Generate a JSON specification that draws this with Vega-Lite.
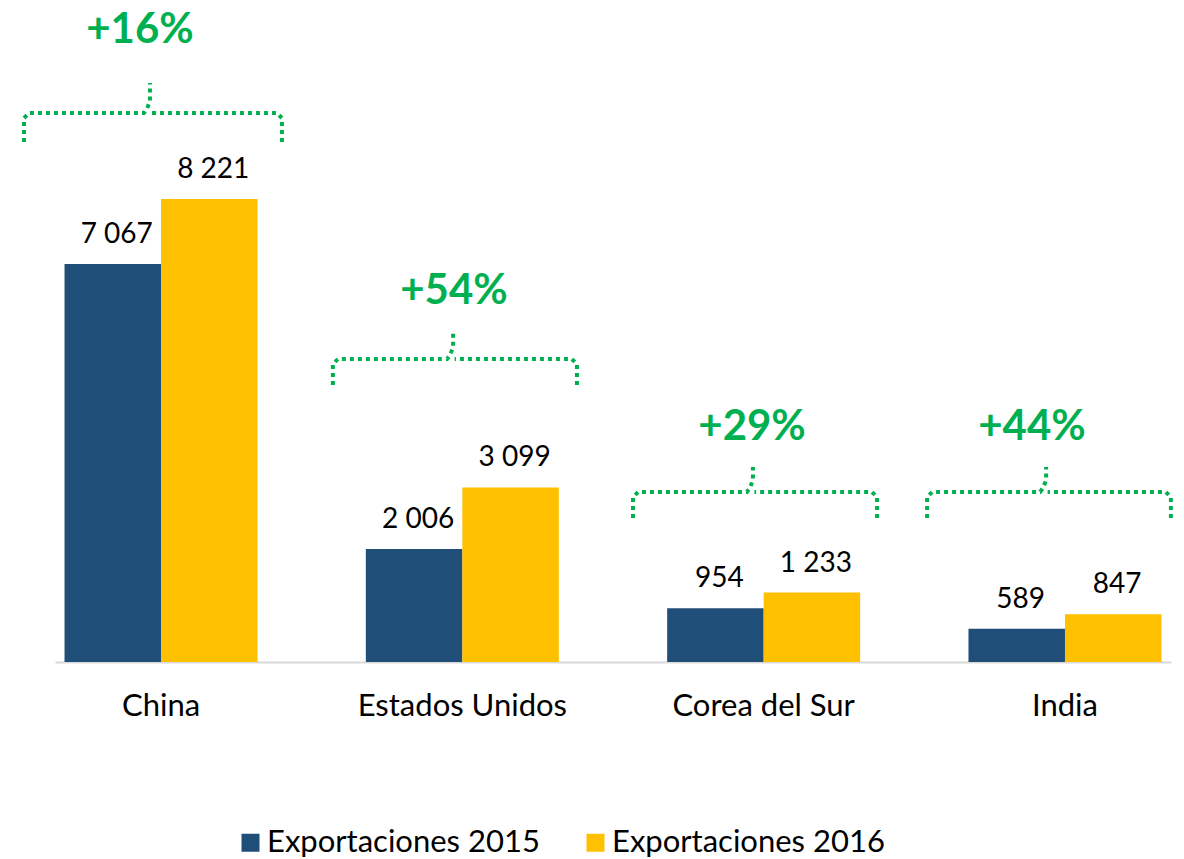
{
  "$schema": "https://vega.github.io/schema/vega-lite/v6.json",
  "width": 1116,
  "height": 662,
  "autosize": {"type": "none"},
  "padding": {"left": 55, "top": 0, "right": 13, "bottom": 197},
  "background": "white",
  "config": {
    "view": {"stroke": null},
    "font": "Lato",
    "locale": {"number": {"decimal": ",", "thousands": " ", "grouping": [3], "currency": ["", ""]}}
  },
  "datasets": {
    "bars": [
      {"pais": "China", "serie": "Exportaciones 2015", "valor": 7067},
      {"pais": "China", "serie": "Exportaciones 2016", "valor": 8221},
      {"pais": "Estados Unidos", "serie": "Exportaciones 2015", "valor": 2006},
      {"pais": "Estados Unidos", "serie": "Exportaciones 2016", "valor": 3099},
      {"pais": "Corea del Sur", "serie": "Exportaciones 2015", "valor": 954},
      {"pais": "Corea del Sur", "serie": "Exportaciones 2016", "valor": 1233},
      {"pais": "India", "serie": "Exportaciones 2015", "valor": 589},
      {"pais": "India", "serie": "Exportaciones 2016", "valor": 847}
    ],
    "brackets": [
      {"path": "China-a", "ord": 1, "xi": -0.453, "yv": 9233},
      {"path": "China-a", "ord": 2, "xi": -0.453, "yv": 9659},
      {"path": "China-a", "ord": 3, "xi": -0.436, "yv": 9748},
      {"path": "China-a", "ord": 4, "xi": -0.055, "yv": 9748},
      {"path": "China-a", "ord": 5, "xi": -0.045, "yv": 9819},
      {"path": "China-a", "ord": 6, "xi": -0.035, "yv": 9961},
      {"path": "China-a", "ord": 7, "xi": -0.035, "yv": 10281},
      {"path": "China-b", "ord": 1, "xi": 0.403, "yv": 9233},
      {"path": "China-b", "ord": 2, "xi": 0.403, "yv": 9659},
      {"path": "China-b", "ord": 3, "xi": 0.386, "yv": 9748},
      {"path": "China-b", "ord": 4, "xi": -0.030, "yv": 9748},
      {"path": "EU-a", "ord": 1, "xi": 0.572, "yv": 4919},
      {"path": "EU-a", "ord": 2, "xi": 0.572, "yv": 5291},
      {"path": "EU-a", "ord": 3, "xi": 0.589, "yv": 5380},
      {"path": "EU-a", "ord": 4, "xi": 0.951, "yv": 5380},
      {"path": "EU-a", "ord": 5, "xi": 0.961, "yv": 5451},
      {"path": "EU-a", "ord": 6, "xi": 0.971, "yv": 5593},
      {"path": "EU-a", "ord": 7, "xi": 0.971, "yv": 5842},
      {"path": "EU-b", "ord": 1, "xi": 1.382, "yv": 4919},
      {"path": "EU-b", "ord": 2, "xi": 1.382, "yv": 5291},
      {"path": "EU-b", "ord": 3, "xi": 1.365, "yv": 5380},
      {"path": "EU-b", "ord": 4, "xi": 0.976, "yv": 5380},
      {"path": "KR-a", "ord": 1, "xi": 1.568, "yv": 2557},
      {"path": "KR-a", "ord": 2, "xi": 1.568, "yv": 2930},
      {"path": "KR-a", "ord": 3, "xi": 1.585, "yv": 3019},
      {"path": "KR-a", "ord": 4, "xi": 1.946, "yv": 3019},
      {"path": "KR-a", "ord": 5, "xi": 1.956, "yv": 3090},
      {"path": "KR-a", "ord": 6, "xi": 1.966, "yv": 3232},
      {"path": "KR-a", "ord": 7, "xi": 1.966, "yv": 3463},
      {"path": "KR-b", "ord": 1, "xi": 2.378, "yv": 2557},
      {"path": "KR-b", "ord": 2, "xi": 2.378, "yv": 2930},
      {"path": "KR-b", "ord": 3, "xi": 2.361, "yv": 3019},
      {"path": "KR-b", "ord": 4, "xi": 1.971, "yv": 3019},
      {"path": "IN-a", "ord": 1, "xi": 2.544, "yv": 2557},
      {"path": "IN-a", "ord": 2, "xi": 2.544, "yv": 2930},
      {"path": "IN-a", "ord": 3, "xi": 2.561, "yv": 3019},
      {"path": "IN-a", "ord": 4, "xi": 2.919, "yv": 3019},
      {"path": "IN-a", "ord": 5, "xi": 2.929, "yv": 3090},
      {"path": "IN-a", "ord": 6, "xi": 2.939, "yv": 3232},
      {"path": "IN-a", "ord": 7, "xi": 2.939, "yv": 3463},
      {"path": "IN-b", "ord": 1, "xi": 3.353, "yv": 2557},
      {"path": "IN-b", "ord": 2, "xi": 3.353, "yv": 2930},
      {"path": "IN-b", "ord": 3, "xi": 3.336, "yv": 3019},
      {"path": "IN-b", "ord": 4, "xi": 2.944, "yv": 3019}
    ],
    "pct": [
      {"label": "+16%", "xi": -0.068, "yv": 11222},
      {"label": "+54%", "xi": 0.974, "yv": 6588},
      {"label": "+29%", "xi": 1.963, "yv": 4173},
      {"label": "+44%", "xi": 2.892, "yv": 4173}
    ]
  },
  "layer": [
    {
      "data": {"name": "bars"},
      "encoding": {
        "x": {
          "field": "pais", "type": "nominal",
          "sort": ["China", "Estados Unidos", "Corea del Sur", "India"],
          "scale": {"paddingInner": 0.3595, "paddingOuter": 0.0316},
          "axis": {
            "title": null, "ticks": false, "labelAngle": 0,
            "labelFont": "Lato", "labelFontSize": 31, "labelColor": "#000000",
            "labelBaseline": "alphabetic", "labelPadding": 53, "labelLimit": 400,
            "domainColor": "#D9D9D9", "domainWidth": 2
          }
        },
        "xOffset": {"field": "serie", "type": "nominal", "scale": {"paddingInner": 0, "paddingOuter": 0}},
        "y": {
          "field": "valor", "type": "quantitative",
          "scale": {"domain": [0, 11755], "nice": false, "zero": true},
          "axis": null
        }
      },
      "layer": [
        {
          "mark": {"type": "bar"},
          "encoding": {
            "color": {
              "field": "serie", "type": "nominal",
              "scale": {"domain": ["Exportaciones 2015", "Exportaciones 2016"], "range": ["#1F4E79", "#FFC000"]},
              "legend": {
                "title": null, "orient": "none", "direction": "horizontal",
                "legendX": 180, "legendY": 827,
                "symbolType": "square", "symbolSize": 324, "symbolStrokeWidth": 0,
                "labelFont": "Lato", "labelFontSize": 31, "labelColor": "#000000",
                "labelOffset": 1, "columnPadding": 40, "labelLimit": 400
              }
            }
          }
        },
        {
          "mark": {"type": "text", "baseline": "alphabetic", "align": "center", "dy": -21, "dx": 4, "font": "Lato", "fontSize": 28, "color": "#000000"},
          "encoding": {
            "text": {"field": "valor", "type": "quantitative", "format": ",.0f"}
          }
        }
      ]
    },
    {
      "layer": [
        {
          "data": {"name": "brackets"},
          "mark": {"type": "line", "color": "#00B050", "strokeWidth": 4, "strokeDash": [4, 4], "strokeCap": "butt"},
          "encoding": {
            "x": {"field": "xi", "type": "quantitative", "scale": {"domain": [-0.3501, 3.3534], "nice": false, "zero": false}, "axis": null},
            "y": {"field": "yv", "type": "quantitative", "scale": {"domain": [0, 11755], "nice": false, "zero": true}, "axis": null},
            "detail": {"field": "path", "type": "nominal"},
            "order": {"field": "ord", "type": "quantitative"}
          }
        },
        {
          "data": {"name": "pct"},
          "mark": {"type": "text", "baseline": "middle", "align": "center", "font": "Lato", "fontSize": 42, "fontWeight": "bold", "color": "#00B050"},
          "encoding": {
            "x": {"field": "xi", "type": "quantitative", "scale": {"domain": [-0.3501, 3.3534], "nice": false, "zero": false}, "axis": null},
            "y": {"field": "yv", "type": "quantitative", "scale": {"domain": [0, 11755], "nice": false, "zero": true}, "axis": null},
            "text": {"field": "label", "type": "nominal"}
          }
        }
      ]
    }
  ],
  "resolve": {"scale": {"x": "independent"}, "axis": {"x": "independent"}}
}
